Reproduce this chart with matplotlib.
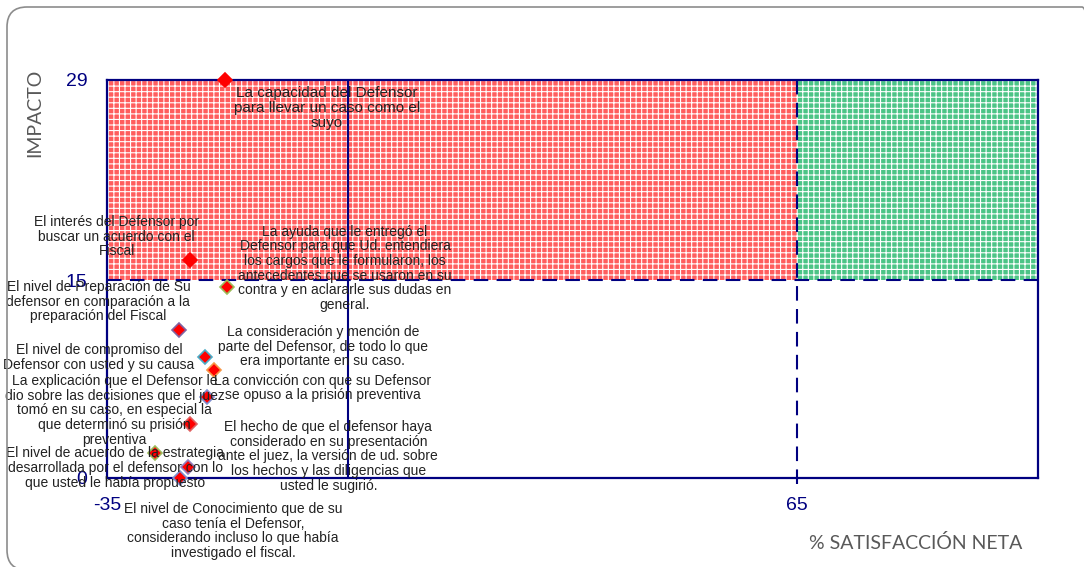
import matplotlib
matplotlib.use('Agg')
import matplotlib.pyplot as plt
from matplotlib.patches import Rectangle, FancyBboxPatch
from matplotlib.transforms import IdentityTransform

# data
labels = [
    "La capacidad del Defensor\npara llevar un caso como el\nsuyo",
    "El interés del Defensor por\nbuscar un acuerdo con el\nFiscal",
    "La ayuda que le entregó el\nDefensor para que Ud. entendiera\nlos cargos que le formularon, los\nantecedentes que se usaron en su\ncontra y en aclararle sus dudas en\ngeneral.",
    "El nivel de Preparación de Su\ndefensor en comparación a la\npreparación del Fiscal",
    "El nivel de compromiso del\nDefensor con usted y su causa",
    "La consideración y mención de\nparte del Defensor, de todo lo que\nera importante en su caso.",
    "La convicción con que su Defensor\nse opuso a la prisión preventiva",
    "La explicación que el Defensor le\ndio sobre las decisiones que el juez\ntomó en su caso, en especial la\nque determinó su prisión\npreventiva",
    "El hecho de que el defensor haya\nconsiderado en su presentación\nante el juez, la versión de ud. sobre\nlos hechos y las diligencias que\nusted le sugirió.",
    "El nivel de acuerdo de la estrategia\ndesarrollada por el defensor con lo\nque usted le había propuesto",
    "El nivel de Conocimiento que de su\ncaso tenía el Defensor,\nconsiderando incluso lo que había\ninvestigado el fiscal.",
]
satisfaccion = [-17.9, -23.0, -17.6, -24.5, -20.8, -19.5, -20.5, -23.0, -28.0, -23.2, -24.4]
impacto = [29.0, 15.9, 13.9, 10.8, 8.8, 7.9, 5.9, 3.9, 1.8, 0.8, 0.0]
x_ticks = [-35, 65]
y_tick_labels = ['0', '15', '29']

x_min, x_max, x_cut = -35, 100, 65
y_min, y_max, y_cut = 0, 29, 14.4

# styling (label offsets in pixels, marker edge colours)
offsets = [(102, -28), (-73, 23), (118, 19), (-81, 28), (-106, 0), (109, 23),
           (116, 9), (-75, 14), (173, -3), (-73, -1), (53, -53)]
edges = ['red', 'red', '#9bbb59', '#8064a2', '#4bacc6', '#f79646',
         '#7f8fd0', '#e06060', '#9bbb59', '#9080c0', '#7f8fd0']
navy = '#000080'

plt.rcParams['font.family'] = ['Liberation Sans', 'DejaVu Sans']
plt.rcParams['hatch.color'] = 'white'
plt.rcParams['hatch.linewidth'] = 0.8

fig = plt.figure(figsize=(10.84, 5.67), dpi=100)
ax = fig.add_axes([107/1084, 1-478/567, (1038-107)/1084, (478-80)/567])
ax.set_xlim(x_min, x_max)
ax.set_ylim(y_min, y_max)

ax.add_patch(Rectangle((x_min, y_cut), x_cut-x_min, y_max-y_cut, facecolor='#ff5e5e',
                       edgecolor='white', hatch='+++', lw=0, zorder=0))
ax.add_patch(Rectangle((x_cut, y_cut), x_max-x_cut, y_max-y_cut, facecolor='#4cc486',
                       edgecolor='white', hatch='+++', lw=0, zorder=0))

ax.axhline(y_cut, color=navy, lw=1.5, ls=(0, (7, 4)), zorder=2)
ax.axvline(x_cut, ymin=-0.015, color=navy, lw=1.5, ls=(0, (7, 4)), zorder=2, clip_on=False)
ax.axvline(0, color=navy, lw=1.5, zorder=2)

for s in ax.spines.values():
    s.set_color(navy)
    s.set_linewidth(1.6)

for x, y, ec in zip(satisfaccion, impacto, edges):
    ax.plot(x, y, marker='D', ms=7, mfc='red', mec=ec, mew=1.2, ls='none',
            zorder=4, clip_on=False)

for i, (lab, x, y, off) in enumerate(zip(labels, satisfaccion, impacto, offsets)):
    ax.annotate(lab, (x, y), xytext=off, textcoords='offset pixels', ha='center', va='center',
                fontsize=11 if i == 0 else 10, color='#222222', zorder=5,
                linespacing=1.06, annotation_clip=False)

ax.set_xticks(x_ticks)
ax.set_xticklabels([str(v) for v in x_ticks])
ax.set_yticks([y_min, y_cut, y_max])
ax.set_yticklabels(y_tick_labels)
ax.tick_params(length=0, labelcolor=navy, labelsize=14)
ax.tick_params(axis='x', pad=14)
ax.tick_params(axis='y', pad=14)

fig.text(35/1084, 1-113/567, 'IMPACTO', rotation=90, ha='center', va='center',
         fontsize=14, color='#595959', family=['Lato', 'DejaVu Sans'])
fig.text(916/1084, 1-543/567, '% SATISFACCIÓN NETA', ha='center', va='center',
         fontsize=14, color='#595959', family=['Lato', 'DejaVu Sans'])

fig.add_artist(FancyBboxPatch((7, -3), 1095, 563, boxstyle='round,pad=0,rounding_size=20',
                              transform=IdentityTransform(), facecolor='none',
                              edgecolor='#8c8c8c', lw=1.2))

fig.savefig('out.png', dpi=100)
plt.close(fig)
